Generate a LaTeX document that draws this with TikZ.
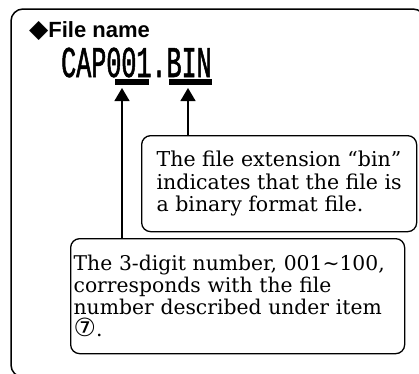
\documentclass[tikz,border=0pt]{standalone}
\usepackage{fontspec}
\setmainfont{DejaVu Serif}
\newfontfamily\headfont{Liberation Sans}
\newfontfamily\symfont{DejaVu Sans}
\newfontfamily\codefont[FakeStretch=0.57, FakeBold=1.2]{Liberation Mono}
\usepackage{tikz}
\usetikzlibrary{arrows.meta, positioning, calc}

\begin{document}
\begin{tikzpicture}[
    x=1pt, y=-1pt,
    note/.style={draw, line width=1.3pt, rounded corners=9pt, anchor=north west,
                 align=left, inner sep=0pt},
    bar/.style={fill=black, inner sep=0pt, minimum height=6pt},
    arrow/.style={-{Triangle[width=15pt, length=13pt]}, line width=1.3pt}
]
    \useasboundingbox (0,0) rectangle (419,373);
    % outer frame, cut by the page edge
    \begin{scope}
        \clip (0,0) rectangle (419,373);
        \draw[line width=1.5pt, rounded corners=12pt] (11,9) rectangle (425,377);
    \end{scope}

    \node[anchor=base west, inner sep=0pt, font=\headfont\bfseries\fontsize{22}{22}\selectfont]
        (title) at (29,37) {{\symfont\fontsize{25}{25}\selectfont ◆}File name};
    \node[anchor=base west, inner sep=0pt, font=\codefont\fontsize{44}{44}\selectfont]
        (fname) at (61,77) {CAP001.BIN};

    \node[bar, minimum width=34pt] (numbar) at (132,82) {};
    \node[bar, minimum width=43pt] (extbar) at (190.5,82) {};
    \coordinate (numtip) at (122,88);
    \coordinate (exttip) at (188,88);

    \node[note, minimum width=275pt, minimum height=96pt,
          font=\fontsize{20.5}{22.5}\selectfont]
        (extnote) at (141,135)
        {The file extension “bin”\\indicates that the file is\\a binary format file.};
    \node[note, minimum width=334pt, minimum height=115pt, text width=328pt,
          font=\fontsize{20.3}{22}\selectfont]
        (numnote) at (70,238)
        {The 3-digit number, 001\textasciitilde100,\\corresponds with the file\\number described under item\\{\symfont\fontsize{25}{22}\selectfont ⑦}.};

    \draw[arrow] (extnote.north -| exttip) -- (exttip);
    \draw[arrow] (numnote.north -| numtip) -- (numtip);
\end{tikzpicture}
\end{document}
